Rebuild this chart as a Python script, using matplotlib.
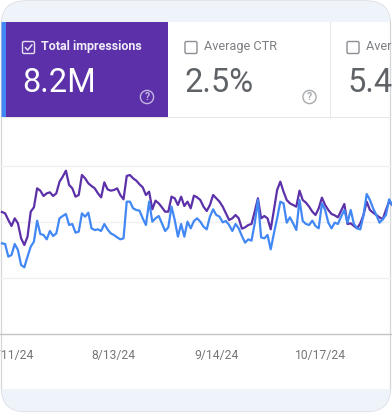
import matplotlib
matplotlib.use("Agg")
import matplotlib.pyplot as plt
from matplotlib.patches import FancyBboxPatch, Rectangle, Circle

plt.rcParams['font.family'] = ['Roboto', 'DejaVu Sans']

# Daily values (the value axis has no labels, so units are relative)
impressions = [366,362,342,324,347,332,287,267,292,367,380,437,430,414,422,425,414,422,457,472,490,447,437,412,417,477,467,452,444,437,422,410,455,434,430,432,437,417,404,474,477,467,460,449,440,417,427,374,400,392,380,367,367,412,407,387,412,384,397,377,
               415,410,402,382,369,387,417,407,397,382,362,342,347,357,347,316,320,327,330,367,407,347,354,347,314,372,432,457,427,402,392,387,382,430,402,394,382,367,357,377,409,387,372,360,356,350,370,390,330,332,324,317,332,357,397,372,364,357,350,344,372,397,387]
clicks = [272,270,232,237,270,252,207,200,232,262,277,340,300,297,284,309,294,302,347,354,360,327,330,304,307,362,352,364,317,312,314,309,330,314,302,297,290,284,287,397,397,377,372,370,347,327,397,337,347,354,332,309,320,382,342,292,330,292,337,317,
          339,347,337,322,314,352,374,357,352,335,339,327,309,330,317,294,274,284,280,332,402,290,287,297,254,302,347,397,392,334,350,332,312,402,339,330,327,340,324,317,392,372,334,317,334,330,352,372,334,372,330,317,314,357,420,402,377,357,334,344,357,404,387]
grid_levels = [168, 336, 504]
tick_days = [3, 35, 67, 99.4]
tick_labels = ["7/11/24", "8/13/24", "9/14/24", "10/17/24"]
tile_titles = ["Total impressions", "Average CTR", "Average position"]
tile_values = ["8.2M", "2.5%", "5.4"]

W, H = 392, 413
PURPLE, BLUE, BAND, GREY = "#5b30a8", "#4288f5", "#eff3fa", "#5f6368"

fig = plt.figure(figsize=(W / 100, H / 100), dpi=100, facecolor="white")

# Layout layer in pixel coordinates
bg = fig.add_axes([0, 0, 1, 1], zorder=0)
bg.set_xlim(0, W); bg.set_ylim(H, 0); bg.axis("off")
card = FancyBboxPatch((1.5, 1), W - 3, H - 2.5, boxstyle="round,pad=0,rounding_size=24",
                      fc="white", ec="#d4d6da", lw=0.9, zorder=1)
bg.add_patch(card)
def clipped_rect(x, y, w, h, c, z=2):
    r = Rectangle((x, y), w, h, fc=c, ec="none", zorder=z)
    bg.add_patch(r); r.set_clip_path(card)
clipped_rect(0, 0, W, 22, BAND)
clipped_rect(0, 389, W, 24, BAND)
clipped_rect(1, 22, 5, 95, BLUE)
clipped_rect(6, 22, 162, 95, PURPLE)
clipped_rect(330, 22, 1.2, 95, "#e8e8ea")
clipped_rect(0, 117, W, 1.2, "#e6e6e8")
clipped_rect(0, 22, 1.5, 391, "#cfd1d4", 3)

def checkbox(x, y, color, checked=False):
    bg.add_patch(FancyBboxPatch((x, y), 12, 12, boxstyle="round,pad=0,rounding_size=1.5",
                                fc="none", ec=color, lw=1.0, zorder=4))
    if checked:
        bg.plot([x + 3, x + 5.2, x + 9.4], [y + 6.2, y + 8.6, y + 3.4], color=color, lw=1.1, zorder=4)

def help_icon(x, y, color):
    bg.add_patch(Circle((x, y), 6.6, fc="none", ec=color, lw=1.0, zorder=4))
    bg.text(x, y + 0.3, "?", color=color, fontsize=7.5, ha="center", va="center", fontweight="bold", zorder=4)

checkbox(22.5, 41.5, "#e6e0f2", True)
checkbox(185, 41.5, "#8a8d91")
checkbox(347, 41.5, "#8a8d91")
help_icon(147, 97, "#c4b4e0")
help_icon(309.5, 97, "#a8abae")

title_x = [41.5, 204, 366]
value_x = [22, 185, 348]
title_col = ["#f0ebf8", "#7c7f83", "#7c7f83"]
value_col = ["white", GREY, GREY]
for i in range(3):
    bg.text(title_x[i], 46.5, tile_titles[i], color=title_col[i], fontsize=9.0 if i == 0 else 9.2,
            fontweight="bold" if i == 0 else "normal", va="center", ha="left", zorder=5)
    bg.text(value_x[i], 83, tile_values[i], color=value_col[i], fontsize=23.5,
            va="center", ha="left", zorder=5)

# Chart layer
top, base = 117, 334
ax = fig.add_axes([0, 1 - base / H, 1, (base - top) / H], zorder=1)
ax.patch.set_alpha(0)
days = list(range(len(impressions)))
ax.set_xlim(-0.6, 121.9)
ax.set_ylim(0, 651)
for s in ("top", "left", "right"):
    ax.spines[s].set_visible(False)
ax.spines["bottom"].set_color("#c4c6c9")
ax.spines["bottom"].set_linewidth(1.0)
ax.set_yticks(grid_levels)
ax.set_yticklabels([])
ax.tick_params(axis="y", length=0)
ax.yaxis.grid(True, color="#f0f0f1", lw=1.0)
ax.set_axisbelow(True)
ax.set_xticks(tick_days)
ax.set_xticklabels(tick_labels, color="#757575", fontsize=8.7)
ax.tick_params(axis="x", length=0, pad=11)
ax.plot(days, impressions, color=PURPLE, lw=1.6, solid_joinstyle="round", clip_on=True)
ax.plot(days, clicks, color=BLUE, lw=1.6, solid_joinstyle="round", clip_on=True)

fig.savefig("out.png", dpi=100)
